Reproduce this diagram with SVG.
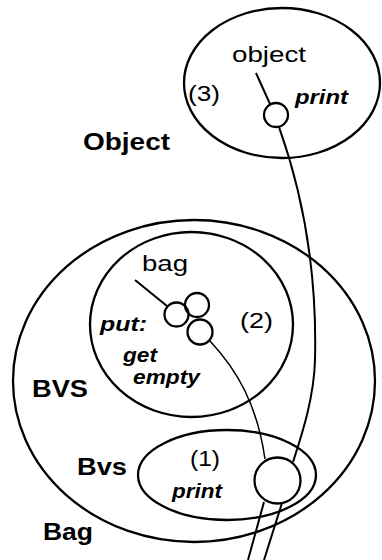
<svg xmlns="http://www.w3.org/2000/svg" width="382" height="560" viewBox="0 0 382 560">
<style>
.sh{fill:none;stroke:#000;stroke-width:2.3}
.ln{fill:none;stroke:#000;stroke-width:2}
.th{fill:none;stroke:#000;stroke-width:1.5}
text{font-family:"Liberation Sans",Arial,sans-serif;fill:#000}
.r{font-size:22px}
.b{font-size:24px;font-weight:bold}
.bi{font-size:21px;font-weight:bold;font-style:italic}
</style>
<rect width="382" height="560" fill="#fff"/>
<g id="object-class">
<ellipse class="sh" cx="282" cy="83" rx="98" ry="75"/>
<text class="r" x="232" y="62" textLength="74" lengthAdjust="spacingAndGlyphs">object</text>
<text class="r" x="188" y="101" textLength="32" lengthAdjust="spacingAndGlyphs">(3)</text>
<text class="bi" x="295" y="104" textLength="53" lengthAdjust="spacingAndGlyphs">print</text>
<circle class="sh" cx="276" cy="115" r="12"/>
</g>
<text class="b" x="83" y="150" textLength="87" lengthAdjust="spacingAndGlyphs">Object</text>
<g id="bag-class">
<ellipse class="sh" cx="194" cy="381" rx="181" ry="161"/>
<text class="b" x="43" y="540" textLength="50" lengthAdjust="spacingAndGlyphs">Bag</text>
</g>
<g id="BVS-class">
<ellipse class="sh" cx="191.5" cy="324.5" rx="101.5" ry="92.5"/>
<text class="r" x="142" y="271" textLength="46" lengthAdjust="spacingAndGlyphs">bag</text>
<text class="bi" x="100" y="331" textLength="47" lengthAdjust="spacingAndGlyphs">put:</text>
<text class="r" x="240" y="328" textLength="33" lengthAdjust="spacingAndGlyphs">(2)</text>
<text class="bi" x="123" y="362" textLength="34" lengthAdjust="spacingAndGlyphs">get</text>
<text class="bi" x="133" y="384" textLength="67" lengthAdjust="spacingAndGlyphs">empty</text>
<circle class="sh" cx="176.5" cy="314.5" r="12"/>
<circle class="sh" cx="197" cy="305" r="12"/>
<circle class="sh" cx="200" cy="332" r="12.5"/>
</g>
<text class="b" x="32" y="397" textLength="56" lengthAdjust="spacingAndGlyphs">BVS</text>
<g id="Bvs-class">
<ellipse class="sh" cx="227" cy="475" rx="89" ry="45"/>
<text class="r" x="190" y="466" textLength="30" lengthAdjust="spacingAndGlyphs">(1)</text>
<text class="bi" x="172" y="498" textLength="50" lengthAdjust="spacingAndGlyphs">print</text>
<circle class="sh" cx="277.5" cy="480.5" r="23"/>
</g>
<text class="b" x="77" y="475" textLength="50" lengthAdjust="spacingAndGlyphs">Bvs</text>
<g id="connectors">
<path class="ln" d="M256,73 L270,104"/>
<path class="ln" d="M279,127 C305,200 317,280 315,360 C314,400 300,440 293,462"/>
<path class="ln" d="M135,280 L167,306"/>
<path class="th" d="M210,341 C237,370 257,404 265,459"/>
<path class="ln" d="M264,502 L248,560"/>
<path class="ln" d="M282,503 L264,560"/>
</g>
</svg>
